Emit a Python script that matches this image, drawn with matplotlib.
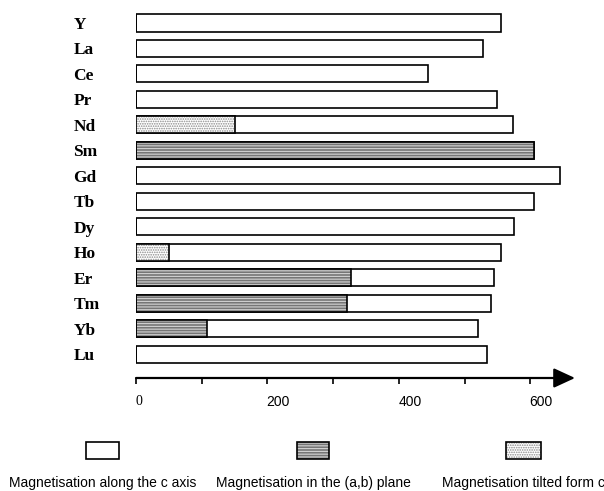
import matplotlib
matplotlib.use('Agg')
import matplotlib.pyplot as plt
import matplotlib.transforms as mtransforms
from matplotlib.patches import Rectangle

# data
elements = ['Y', 'La', 'Ce', 'Pr', 'Nd', 'Sm', 'Gd', 'Tb', 'Dy', 'Ho', 'Er', 'Tm', 'Yb', 'Lu']
total = [555, 528, 444, 549, 574, 606, 645, 606, 575, 555, 545, 540, 520, 534]
in_plane = [0, 0, 0, 0, 0, 606, 0, 0, 0, 0, 327, 321, 108, 0]
tilted = [0, 0, 0, 0, 151, 0, 0, 0, 0, 50, 0, 0, 0, 0]
tick_vals = [0, 100, 200, 300, 400, 500, 600]
tick_labels = ['0', '', '200', '', '400', '', '600']
legend_labels = ['Magnetisation along the c axis',
                 'Magnetisation in the (a,b) plane',
                 'Magnetisation tilted form c']

plt.rcParams['hatch.linewidth'] = 0.8

W, H = 604, 491
fig = plt.figure(figsize=(W / 100, H / 100), dpi=100)

# pattern styles: hatch colour comes from the edge colour, border drawn separately
plane_fill = dict(facecolor='#767676', edgecolor='#d4d4d4', hatch='------', linewidth=0)
tilt_fill = dict(facecolor='white', edgecolor='#8a8a8a', hatch='.......', linewidth=0)
border = dict(fill=False, edgecolor='black', linewidth=1.2)

# main axes: x 0 at px 136, arrow tip at px 575; axis line at py 378
ax = fig.add_axes([136 / W, 1 - 378 / H, 439 / W, 368 / H])
ax.set_xlim(0, 668)
ax.set_ylim(13.94, -0.51)

ypos = list(range(len(elements)))
bh = 0.67
ax.barh(ypos, total, height=bh, color='white', edgecolor='black', linewidth=1.2)
ax.barh(ypos, in_plane, height=bh, **plane_fill)
ax.barh(ypos, in_plane, height=bh, **border)
ax.barh(ypos, tilted, height=bh, **tilt_fill)
ax.barh(ypos, tilted, height=bh, **border)

for s in ['left', 'top', 'right', 'bottom']:
    ax.spines[s].set_visible(False)

# y labels, left aligned
ax.set_yticks(ypos)
ax.set_yticklabels(elements, ha='left', fontfamily='Liberation Serif',
                   fontweight='bold', fontsize=12.5)
ax.tick_params(axis='y', length=0, pad=45)

# x axis with arrow
ax.annotate('', xy=(1, 0), xytext=(0, 0), xycoords='axes fraction',
            arrowprops=dict(arrowstyle='-|>,head_length=13,head_width=6',
                            mutation_scale=1, color='black', lw=1.6,
                            shrinkA=0, shrinkB=0))
ax.set_xticks(tick_vals)
ax.set_xticklabels(tick_labels, fontfamily='Liberation Sans', fontsize=10)
ax.tick_params(axis='x', direction='out', length=4, width=1.2, pad=8)
offset = mtransforms.ScaledTranslation(11 / 100, 0, fig.dpi_scale_trans)
for lab in ax.get_xticklabels():
    lab.set_transform(lab.get_transform() + offset)
zero = ax.get_xticklabels()[0]
zero.set_fontfamily('Liberation Serif')
zero.set_transform(zero.get_transform()
                   + mtransforms.ScaledTranslation(-8 / 100, 0, fig.dpi_scale_trans))

# legend drawn in pixel coordinates
lg = fig.add_axes([0, 0, 1, 1])
lg.set_xlim(0, W)
lg.set_ylim(H, 0)
lg.axis('off')
box_x = [86, 297, 506]
box_w = [33, 32, 35]
fills = [dict(facecolor='white', linewidth=0), plane_fill, tilt_fill]
for x, w, st, lab in zip(box_x, box_w, fills, legend_labels):
    lg.add_patch(Rectangle((x, 442), w, 17, **st))
    lg.add_patch(Rectangle((x, 442), w, 17, **border))
    lg.text(x + w / 2, 483, lab, ha='center', va='center',
            fontfamily='Liberation Sans', fontsize=10)

fig.savefig('out.png', dpi=100)
